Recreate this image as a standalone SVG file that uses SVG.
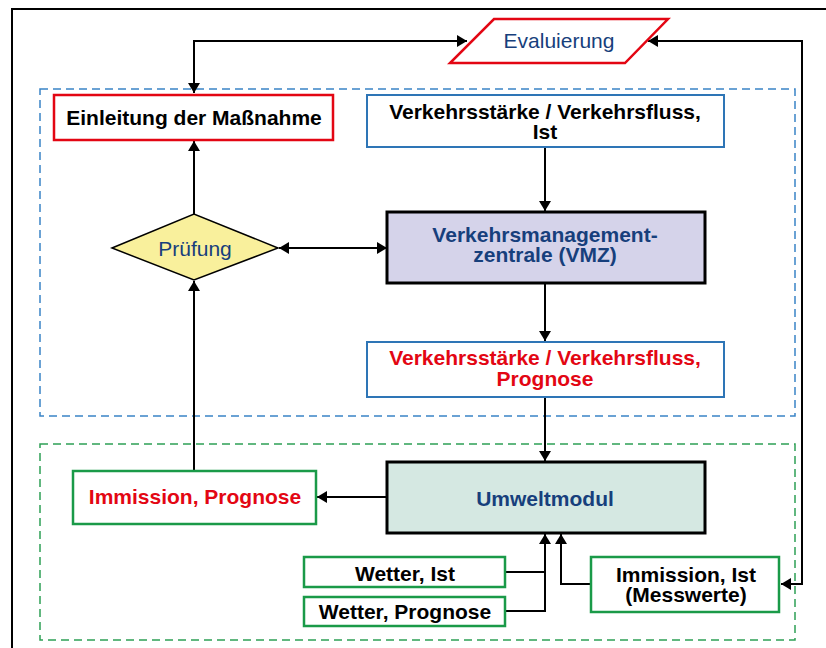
<svg xmlns="http://www.w3.org/2000/svg" width="826" height="648" viewBox="0 0 826 648">
<defs>
<marker id="ah" markerUnits="userSpaceOnUse" markerWidth="10" markerHeight="12" refX="10" refY="6" orient="auto-start-reverse">
<path d="M0,0 L10,6 L0,12 z" fill="#000"/>
</marker>
<style>
text{font-family:"Liberation Sans",Arial,sans-serif;font-size:21px;text-anchor:middle}
.b{font-weight:bold}
.blk{fill:#000}
.dk{fill:#173f7c}
.red{fill:#e30613}
.con{fill:none;stroke:#000;stroke-width:2}
.bbox{fill:#fff;stroke:#2e75b6;stroke-width:2}
.gbox{fill:#fff;stroke:#1a9a48;stroke-width:2.5}
.rbox{fill:#fff;stroke:#e30613;stroke-width:2.5}
</style>
</defs>
<rect x="0" y="0" width="826" height="648" fill="#fff"/>
<rect x="12" y="9" width="830" height="660" fill="none" stroke="#000" stroke-width="2"/>
<rect id="zone-verkehr" x="40" y="89" width="755" height="327" fill="none" stroke="#3a84c6" stroke-width="1.5" stroke-dasharray="8,5"/>
<rect id="zone-umwelt" x="40" y="444" width="755" height="196" fill="none" stroke="#2ea055" stroke-width="1.5" stroke-dasharray="8,5"/>

<g id="connectors">
<path class="con" d="M467,41 L194,41 L194,93" marker-start="url(#ah)" marker-end="url(#ah)"/>
<path class="con" d="M648,41 L802,41 L802,584 L781,584" marker-start="url(#ah)" marker-end="url(#ah)"/>
<path class="con" d="M194,214 L194,141" marker-end="url(#ah)"/>
<path class="con" d="M194,471 L194,281" marker-end="url(#ah)"/>
<path class="con" d="M279,248 L387,248" marker-start="url(#ah)" marker-end="url(#ah)"/>
<path class="con" d="M545,147 L545,211" marker-end="url(#ah)"/>
<path class="con" d="M545,284 L545,341" marker-end="url(#ah)"/>
<path class="con" d="M545,397 L545,461" marker-end="url(#ah)"/>
<path class="con" d="M387,497 L317,497" marker-end="url(#ah)"/>
<path class="con" d="M505,572 L545,572"/>
<path class="con" d="M505,611 L545,611 L545,534" marker-end="url(#ah)"/>
<path class="con" d="M591,584 L561,584 L561,534" marker-end="url(#ah)"/>
</g>

<g id="evaluierung">
<polygon points="494,19 668,19 625,63 450,63" fill="#fff" stroke="#e30613" stroke-width="2.5"/>
<text x="559" y="48" class="dk">Evaluierung</text>
</g>

<g id="einleitung">
<rect x="54" y="95" width="279" height="45" class="rbox"/>
<text x="194" y="125" class="b blk">Einleitung der Maßnahme</text>
</g>

<g id="verkehr-ist">
<rect x="367" y="95" width="357" height="52" class="bbox"/>
<text x="545" y="119" class="b blk">Verkehrsstärke / Verkehrsfluss,</text>
<text x="545" y="139" class="b blk">Ist</text>
</g>

<g id="vmz">
<rect x="387" y="212" width="318" height="71" fill="#d5d3ea" stroke="#000" stroke-width="3"/>
<text x="545" y="242" class="b dk">Verkehrsmanagement-</text>
<text x="545" y="262" class="b dk">zentrale (VMZ)</text>
</g>

<g id="pruefung">
<polygon points="112,248 194,214 278,248 194,280" fill="#f9f09c" stroke="#000" stroke-width="1.5"/>
<text x="195" y="256" class="dk">Prüfung</text>
</g>

<g id="verkehr-prognose">
<rect x="367" y="342" width="357" height="55" class="bbox"/>
<text x="545" y="365" class="b red">Verkehrsstärke / Verkehrsfluss,</text>
<text x="545" y="386" class="b red">Prognose</text>
</g>

<g id="umweltmodul">
<rect x="387" y="462" width="318" height="71" fill="#d5e8e2" stroke="#000" stroke-width="3"/>
<text x="545" y="506" class="b dk">Umweltmodul</text>
</g>

<g id="immission-prognose">
<rect x="73" y="471" width="243" height="53" class="gbox"/>
<text x="195" y="504" class="b red">Immission, Prognose</text>
</g>

<g id="wetter-ist">
<rect x="304" y="557" width="201" height="30" class="gbox"/>
<text x="405" y="581" class="b blk">Wetter, Ist</text>
</g>

<g id="wetter-prognose">
<rect x="304" y="597" width="201" height="29" class="gbox"/>
<text x="405" y="619" class="b blk">Wetter, Prognose</text>
</g>

<g id="immission-ist">
<rect x="591" y="557" width="188" height="55" class="gbox"/>
<text x="686" y="582" class="b blk">Immission, Ist</text>
<text x="686" y="602" class="b blk">(Messwerte)</text>
</g>
</svg>
